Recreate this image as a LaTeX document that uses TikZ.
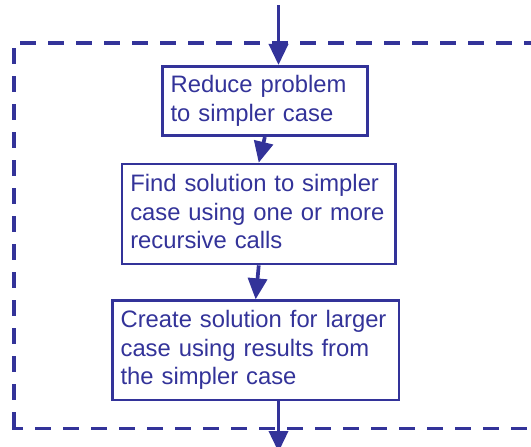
\documentclass[tikz,border=0pt]{standalone}
\usepackage{fontspec}
\setmainfont{Liberation Sans}
\usetikzlibrary{arrows.meta}
\definecolor{navy}{HTML}{333399}
\newcommand\topstr{\rule{0pt}{17pt}}
\newcommand\botstr{\rule[-5pt]{0pt}{5pt}}
\tikzset{
  stepbox/.style={draw=navy, line width=2.7pt, text=navy, align=left,
    inner xsep=8.3pt, inner ysep=0pt,
    font=\fontsize{23.8}{28.5}\selectfont},
  flow/.style={draw=navy, line width=3.7pt,
    -{Triangle[length=21pt,width=19pt]}},
  frame/.style={draw=navy, line width=3.6pt, dash pattern=on 16pt off 12pt}
}
\begin{document}
\begin{tikzpicture}[x=1pt,y=-1pt]
\useasboundingbox (0,0) rectangle (531,447);
% dashed frame (right side beyond the picture)
\draw[frame] (20,42.7) -- (545,42.7);
\draw[frame] (13.7,48) -- (13.7,428);
\draw[frame, dash phase=5pt] (12,428.3) -- (545,428.3);
% boxes
\node[stepbox, text width=188.5pt, minimum width=205.1pt, minimum height=69.4pt]
  (b1) at (264.85,101) {\topstr Reduce problem\\to simpler case\botstr};
\node[stepbox, text width=256.9pt, minimum width=273.5pt, minimum height=100pt]
  (b2) at (258.75,214) {\topstr Find solution to simpler\\case using one or more\\recursive calls\botstr};
\node[stepbox, text width=270.1pt, minimum width=286.7pt, minimum height=99.3pt]
  (b3) at (255.65,350.35) {\topstr Create solution for larger\\case using results from\\the simpler case\botstr};
% connectors
\coordinate (in) at (278.5,5);
\coordinate (out) at (278.5,452);
\draw[flow] (in) -- (in |- b1.north);
\draw[flow] (b1.south) -- (b2.north);
\draw[flow] (b2.south) -- (b3.north);
\draw[flow] (out |- b3.south) -- (out);
\end{tikzpicture}
\end{document}
